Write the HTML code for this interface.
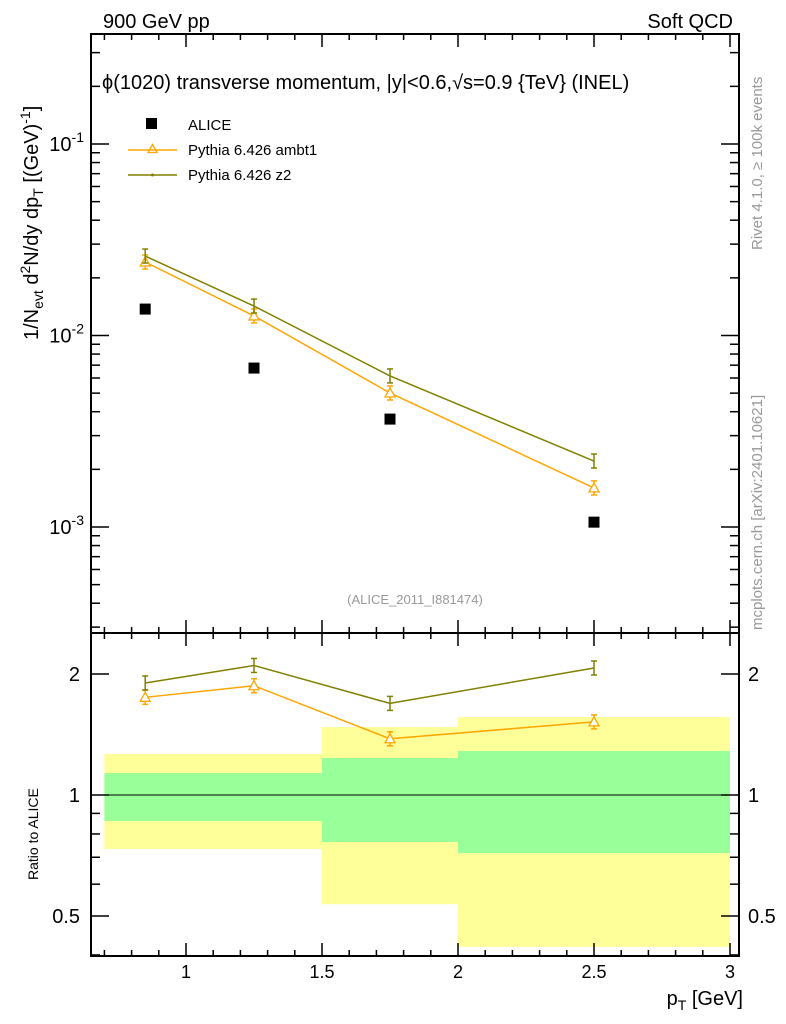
<!DOCTYPE html>
<html><head><meta charset="utf-8"><style>
body{margin:0;background:#fff;}
svg{display:block;font-family:"Liberation Sans",sans-serif;}
</style></head><body>
<svg id="c" width="786" height="1024" viewBox="0 0 786 1024">
<g id="bands"></g>
<g id="axes"></g>
<g id="series"></g>
<text x="103" y="28" font-size="20">900 GeV pp</text>
<text x="733" y="28" font-size="20" text-anchor="end">Soft QCD</text>
<text x="102" y="89" font-size="20">ϕ(1020) transverse momentum, |y|&lt;0.6,√s=0.9 {TeV} (INEL)</text>
<text x="415" y="604" font-size="13" fill="#999" text-anchor="middle">(ALICE_2011_I881474)</text>
<text transform="translate(762,250) rotate(-90)" font-size="15" fill="#999">Rivet 4.1.0, ≥ 100k events</text>
<text transform="translate(762,630) rotate(-90)" font-size="15" fill="#999">mcplots.cern.ch [arXiv:2401.10621]</text>
<text transform="translate(38,340) rotate(-90)" font-size="20">1/N<tspan font-size="14" dy="5">evt</tspan><tspan dy="-5"> d</tspan><tspan font-size="14" dy="-8">2</tspan><tspan dy="8">N/dy dp</tspan><tspan font-size="14" dy="5">T</tspan><tspan dy="-5"> [(GeV)</tspan><tspan font-size="14" dy="-8">-1</tspan><tspan dy="8">]</tspan></text>
<text transform="translate(38,880) rotate(-90)" font-size="14">Ratio to ALICE</text>
<text x="743" y="1005" font-size="20" text-anchor="end">p<tspan font-size="14" dy="5">T</tspan><tspan dy="-5"> [GeV]</tspan></text>
<g>
<rect x="146" y="118" width="11" height="11" fill="#000"/>
<text x="188" y="130" font-size="15">ALICE</text>
<line x1="128" y1="150" x2="177" y2="150" stroke="#ffa500" stroke-width="1.5"/>
<path d="M152.5,144.5 L157,152.5 L148,152.5 Z" fill="none" stroke="#ffa500" stroke-width="1.3"/>
<text x="188" y="155" font-size="15">Pythia 6.426 ambt1</text>
<line x1="128" y1="175" x2="177" y2="175" stroke="#808000" stroke-width="1.5"/>
<circle cx="152.5" cy="175" r="1.5" fill="#808000"/>
<text x="188" y="180" font-size="15">Pythia 6.426 z2</text>
</g>
</svg>
<script>
const ptX=[0.85,1.25,1.75,2.5];
const alice=[0.01374,0.00676,0.00366,0.00106];
const ambt1=[0.0242,0.01265,0.00501,0.0016];
const z2=[0.026,0.01425,0.00615,0.00221];
const ratioAmbt1=[1.75,1.87,1.38,1.52];
const ratioZ2=[1.90,2.10,1.69,2.07];
const binEdges=[0.7,1.5,2.0,3.0];
const bandYellowLo=[0.734,0.535,0.419];
const bandYellowHi=[1.265,1.476,1.563];
const bandGreenLo=[0.862,0.764,0.717];
const bandGreenHi=[1.134,1.236,1.287];
const xTickLabels=["1","1.5","2","2.5","3"];
const xTickVals=[1,1.5,2,2.5,3];

const NS="http://www.w3.org/2000/svg";
const L=91,R=739,T=34,MB=633,RB=956;
function X(v){return 186+(v-1)*272;}
function Y(v){return 144-(Math.log10(v)+1)*191.5;}
function RY(v){return 795-Math.log2(v)*121;}
function el(p,tag,a){const e=document.createElementNS(NS,tag);for(const k in a)e.setAttribute(k,a[k]);p.appendChild(e);return e;}
const bands=document.getElementById('bands'),axes=document.getElementById('axes'),ser=document.getElementById('series');

for(let i=0;i<3;i++){
 const x1=Math.max(X(binEdges[i]),L),x2=X(binEdges[i+1]);
 let r=el(bands,'rect',{x:x1,y:RY(bandYellowHi[i]),width:x2-x1,height:RY(bandYellowLo[i])-RY(bandYellowHi[i]),fill:'#ffff99'});
 
 
 r=el(bands,'rect',{x:x1,y:RY(bandGreenHi[i]),width:x2-x1,height:RY(bandGreenLo[i])-RY(bandGreenHi[i]),fill:'#99ff99'});
 
 
}
el(axes,'line',{x1:L,x2:R,y1:RY(1),y2:RY(1),stroke:'#000','stroke-width':1});
el(axes,'rect',{x:L,y:T,width:R-L,height:MB-T,fill:'none',stroke:'#000','stroke-width':2});
el(axes,'rect',{x:L,y:MB,width:R-L,height:RB-MB,fill:'none',stroke:'#000','stroke-width':2});
for(let v=0.7;v<=3.04;v+=0.1){
 const x=X(v);const maj=Math.abs(v*2-Math.round(v*2))<1e-6;const len=maj?13:6;
 [[T,1],[MB,-1],[MB,1],[RB,-1]].forEach(([y,d])=>el(axes,'line',{x1:x,x2:x,y1:y,y2:y+d*len,stroke:'#000','stroke-width':1.5}));
}
xTickVals.forEach((v,i)=>{const t=el(axes,'text',{x:X(v),y:RB+22,'font-size':18,'text-anchor':'middle'});t.textContent=xTickLabels[i];
 
 });
for(let e=-4;e<=0;e++)for(let m=1;m<10;m++){const v=m*Math.pow(10,e);const y=Y(v);if(y<T||y>MB)continue;const len=m==1?18:9;
 el(axes,'line',{x1:L,x2:L+len,y1:y,y2:y,stroke:'#000','stroke-width':1.5});el(axes,'line',{x1:R,x2:R-len,y1:y,y2:y,stroke:'#000','stroke-width':1.5});
 if(m==1){const t=el(axes,'text',{x:84,y:y+7,'font-size':20,'text-anchor':'end'});t.innerHTML='10<tspan font-size="14" dy="-9">'+e+'</tspan>';
 
 }}
[0.4,0.5,0.6,0.7,0.8,0.9,1,2].forEach(v=>{const y=RY(v);const maj=(v==0.5||v==1||v==2);const len=maj?18:9;
 el(axes,'line',{x1:L,x2:L+len,y1:y,y2:y,stroke:'#000','stroke-width':1.5});el(axes,'line',{x1:R,x2:R-len,y1:y,y2:y,stroke:'#000','stroke-width':1.5});
 if(maj){[[80,'end'],[748,'start']].forEach(([x,a])=>{const t=el(axes,'text',{x:x,y:y+7,'font-size':20,'text-anchor':a});t.textContent=String(v);
 
 });}});
function line(vals,f,col,name,tri){
 const pts=ptX.map((x,i)=>X(x)+','+f(vals[i])).join(' ');
 const p=el(ser,'polyline',{points:pts,fill:'none',stroke:col,'stroke-width':1.5});
 
 
 ptX.forEach((x,i)=>{const cx=X(x),cy=f(vals[i]);
  el(ser,'line',{x1:cx,x2:cx,y1:cy-7,y2:cy+7,stroke:col,'stroke-width':1.5});
  el(ser,'line',{x1:cx-3,x2:cx+3,y1:cy-7,y2:cy-7,stroke:col,'stroke-width':1.5});
  el(ser,'line',{x1:cx-3,x2:cx+3,y1:cy+7,y2:cy+7,stroke:col,'stroke-width':1.5});
  if(tri){const m=el(ser,'path',{d:`M${cx},${cy-5} L${cx+5},${cy+4} L${cx-5},${cy+4} Z`,fill:'#fff',stroke:col,'stroke-width':1.3});
   
   }
 });
}
line(ambt1,Y,'#ffa500','ambt1-line',true);
line(z2,Y,'#808000','z2-line',false);
line(ratioAmbt1,RY,'#ffa500','ambt1-ratio-line',true);
line(ratioZ2,RY,'#808000','z2-ratio-line',false);
ptX.forEach((x,i)=>{const r=el(ser,'rect',{x:X(x)-5.5,y:Y(alice[i])-5.5,width:11,height:11,fill:'#000'});
 
 });
</script>
</body></html>
